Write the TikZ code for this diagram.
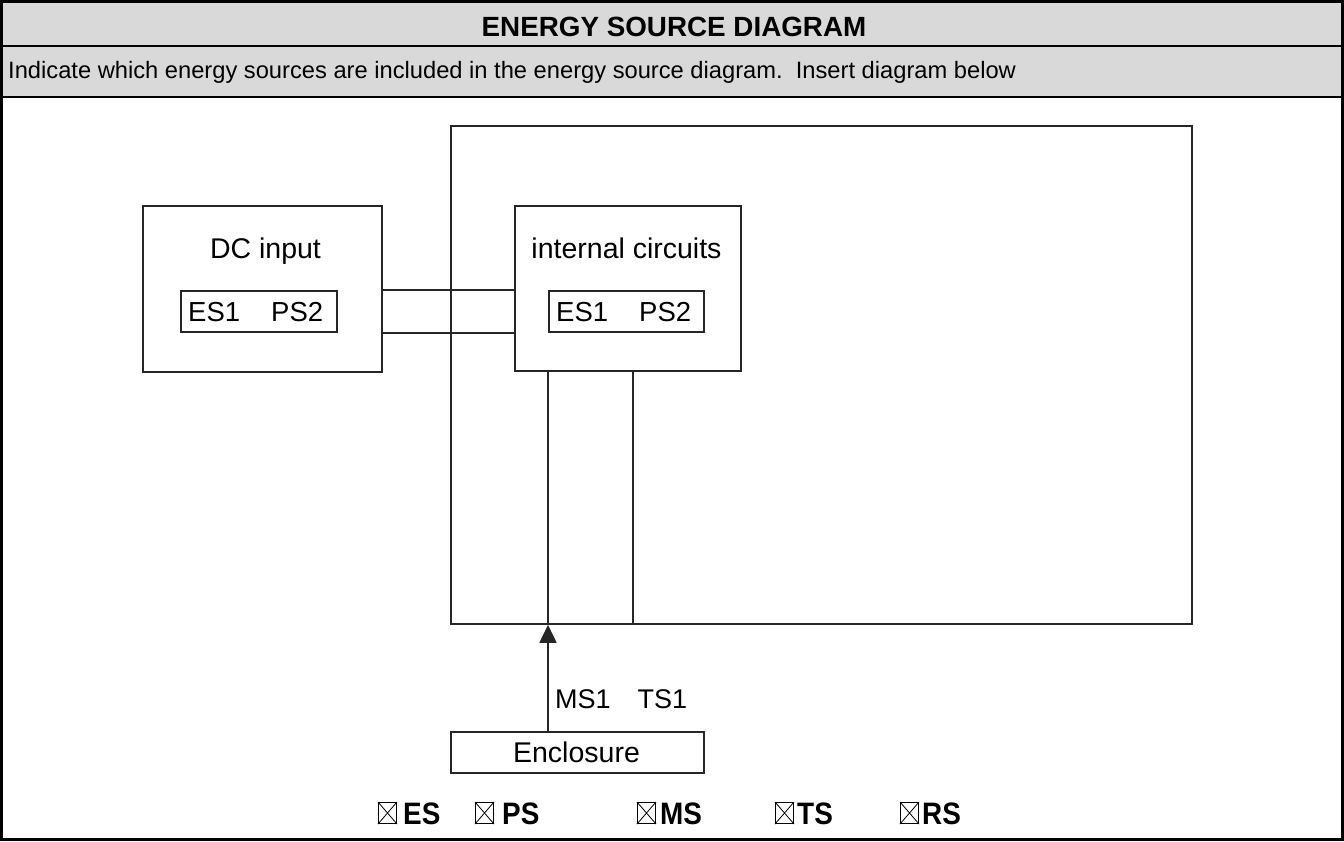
\documentclass[tikz,border=0pt]{standalone}
\usepackage{fontspec}
\setmainfont{Liberation Sans}
\usetikzlibrary{arrows.meta,calc}
\definecolor{hdrgray}{RGB}{217,217,217}
\tikzset{
  boxnode/.style={draw=black!85, line width=1.8pt, inner sep=0pt, anchor=north west},
  lbl/.style={inner sep=0pt, anchor=base, font=\fontsize{28.5}{32}\selectfont},
  wire/.style={draw=black!85, line width=1.8pt},
  cbox/.style={draw=black, line width=1pt, minimum width=18pt, minimum height=21pt, inner sep=0pt, anchor=north west},
  cblbl/.style={inner sep=0pt, anchor=base west, font=\fontsize{31}{34}\selectfont\bfseries},
}
\begin{document}
\begin{tikzpicture}[x=1pt,y=-1pt]
\useasboundingbox (0,0) rectangle (1344,841);
% header rows
\fill[hdrgray] (1.5,1.5) rectangle (1342.5,97);
\draw[line width=2.5pt] (1.5,46) -- (1342.5,46);
\draw[line width=2.5pt] (1.5,97) -- (1342.5,97);
\draw[line width=3pt] (1.5,1.5) rectangle (1342.5,839);
\node[inner sep=0pt, anchor=base, font=\fontsize{27.8}{30}\selectfont\bfseries] (title) at (674,36) {ENERGY SOURCE DIAGRAM};
\node[inner sep=0pt, anchor=base west, font=\fontsize{23.7}{28}\selectfont] (instr) at (8,78) {Indicate which energy sources are included in the energy source diagram.\ \ Insert diagram below};
% boxes
\node[boxnode, minimum width=741, minimum height=498] (big) at (450,125) {};
\node[boxnode, minimum width=239, minimum height=166] (dc) at (142,205) {};
\node[lbl] (dct) at (265.5,258) {DC input};
\node[boxnode, minimum width=156, minimum height=41] (dcin) at (180,290) {};
\node[lbl, anchor=base west, font=\fontsize{27.5}{30}\selectfont] (dcint) at (188,321) {ES1\hspace{31pt}PS2};
\node[boxnode, minimum width=226, minimum height=165] (ic) at (514,205) {};
\node[lbl] (ict) at (626.5,258) {internal circuits};
\node[boxnode, minimum width=155, minimum height=41] (icin) at (548,290) {};
\node[lbl, anchor=base west, font=\fontsize{27.5}{30}\selectfont] (icint) at (556,321) {ES1\hspace{31pt}PS2};
\node[boxnode, minimum width=253, minimum height=41] (encl) at (450,731) {};
\node[lbl] (enct) at (576.5,762) {Enclosure};
\coordinate (ts) at (633,370);
% connectors
\draw[wire] (dc.east |- dcin.north) -- (ic.west |- dcin.north);
\draw[wire] (dc.east |- dcin.south) -- (ic.west |- dcin.south);
\draw[wire] (icin.west |- ic.south) -- (icin.west |- big.south);
\draw[wire] (ts) -- (ts |- big.south);
\draw[wire, -{Triangle[length=18pt,width=17pt]}] (encl.north -| icin.west) -- (icin.west |- big.south);
\node[lbl, anchor=base west, font=\fontsize{27}{30}\selectfont] (ms) at (555,708) {MS1\hspace{27pt}TS1};
% checkboxes
\foreach \x/\n in {378/es, 475/ps, 637/msb, 775/tsb, 900/rs}{
  \node[cbox] (\n) at (\x,802) {};
  \draw[line width=0.8pt] (\n.north west) -- (\n.south east) (\n.north east) -- (\n.south west);
}
\node[cblbl] (esl) at (403,824) {\scalebox{0.9}[1]{ES}};
\node[cblbl] (psl) at (502,824) {\scalebox{0.9}[1]{PS}};
\node[cblbl] (msl) at (660,824) {\scalebox{0.9}[1]{MS}};
\node[cblbl] (tsl) at (797,824) {\scalebox{0.9}[1]{TS}};
\node[cblbl] (rsl) at (922,824) {\scalebox{0.9}[1]{RS}};
\end{tikzpicture}
\end{document}
